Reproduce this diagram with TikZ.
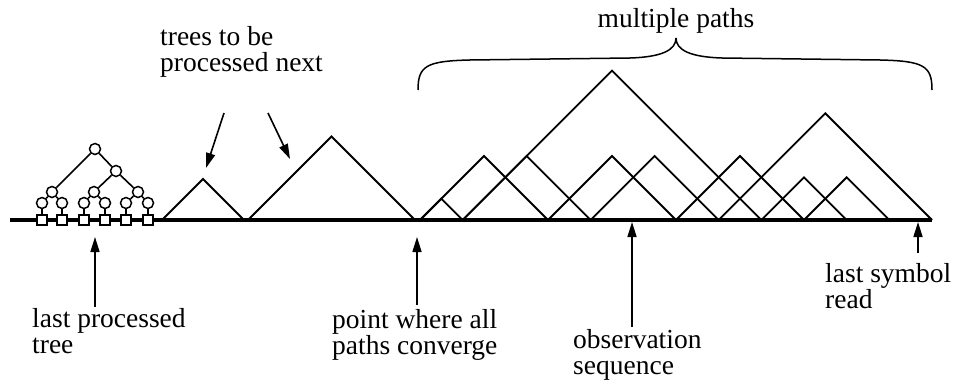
\documentclass[tikz,border=0pt]{standalone}
\usepackage{fontspec}
\setmainfont{Liberation Serif}
\usetikzlibrary{arrows.meta}
\newcommand\mytri[2]{\draw[tri] (#1,220) -- ({(#1+#2)/2},{220-(#2-#1)/2}) -- (#2,220);}
\begin{document}
\begin{tikzpicture}[x=1pt,y=-1pt,
  tri/.style={line width=1.8pt, line join=miter},
  lab/.style={font=\fontsize{27.5}{26}\selectfont, align=left, inner sep=0pt, anchor=base west},
  ptr/.style={line width=1.6pt, -{Triangle[length=15pt,width=9pt]}},
  edge/.style={line width=1.6pt},
  cnode/.style={circle, draw, line width=1.5pt, minimum size=11pt, inner sep=0pt, fill=white},
  snode/.style={rectangle, draw, line width=1.5pt, minimum size=10pt, inner sep=0pt, fill=white}]
\useasboundingbox (0,0) rectangle (957,385);
% baseline (observation sequence)
\coordinate (b0) at (10,220);
\coordinate (b1) at (932,220);
\draw[line width=3.2pt] (b0) -- (b1);
% trees to be processed next
\mytri{162}{244}
\mytri{248}{415}
% multiple paths
\mytri{420}{462.67}
\mytri{420}{548}
\mytri{462.67}{761.33}
\mytri{462.67}{590.67}
\mytri{548}{676}
\mytri{590.67}{718.67}
\mytri{676}{804}
\mytri{718.67}{932}
\mytri{761.33}{846.67}
\mytri{804}{889.33}
% last processed tree
\node[cnode] (r) at (95,149) {};
\node[cnode] (m) at (116,171) {};
\node[cnode] (a) at (52,192) {};
\node[cnode] (b) at (94,192) {};
\node[cnode] (c) at (138,192) {};
\foreach \i/\x in {1/42,2/62,3/84,4/105,5/126,6/148}{
  \node[cnode] (l\i) at (\x,203) {};
  \node[snode] (s\i) at (\x,220) {};
  \draw[edge] (l\i) -- (s\i);
}
\draw[edge] (r) -- (a);
\draw[edge] (r) -- (m);
\draw[edge] (m) -- (b);
\draw[edge] (m) -- (c);
\draw[edge] (a) -- (l1);
\draw[edge] (a) -- (l2);
\draw[edge] (b) -- (l3);
\draw[edge] (b) -- (l4);
\draw[edge] (c) -- (l5);
\draw[edge] (c) -- (l6);
% brace
\coordinate (brL) at (418,90);
\coordinate (brM) at (676,38);
\coordinate (brR) at (932,90);
\draw[line width=1.5pt] (brL) .. controls (418,66) and (426,61) .. (470,60) -- (630,58) .. controls (662,57) and (676,50) .. (brM);
\draw[line width=1.5pt] (brM) .. controls (676,50) and (690,57) .. (722,58) -- (880,60) .. controls (924,61) and (932,66) .. (brR);
% labels (base anchor = last line's baseline)
\node[lab] (tnext) at (160,72) {trees to be\\processed next};
\node[lab, anchor=base] (mp) at (676,28) {multiple paths};
\node[lab] (lpt) at (32,353) {last processed\\tree};
\node[lab] (pw) at (332,354) {point where all\\paths converge};
\node[lab] (obs) at (573,374) {observation\\sequence};
\node[lab] (lsr) at (825,308) {last symbol\\read};
% arrows
\coordinate (t1a) at (224,113); \coordinate (t1b) at (206,168);
\coordinate (t2a) at (268,113); \coordinate (t2b) at (290,159);
\draw[ptr] (t1a) -- (t1b);
\draw[ptr] (t2a) -- (t2b);
\coordinate (p1a) at (95,307); \coordinate (p1b) at (95,237);
\coordinate (p2a) at (417,305); \coordinate (p2b) at (417,237);
\coordinate (p3a) at (632,327); \coordinate (p3b) at (632,222);
\coordinate (p4a) at (918,253); \coordinate (p4b) at (918,222);
\draw[ptr] (p1a) -- (p1b);
\draw[ptr] (p2a) -- (p2b);
\draw[ptr] (p3a) -- (p3b);
\draw[ptr] (p4a) -- (p4b);
\end{tikzpicture}
\end{document}
